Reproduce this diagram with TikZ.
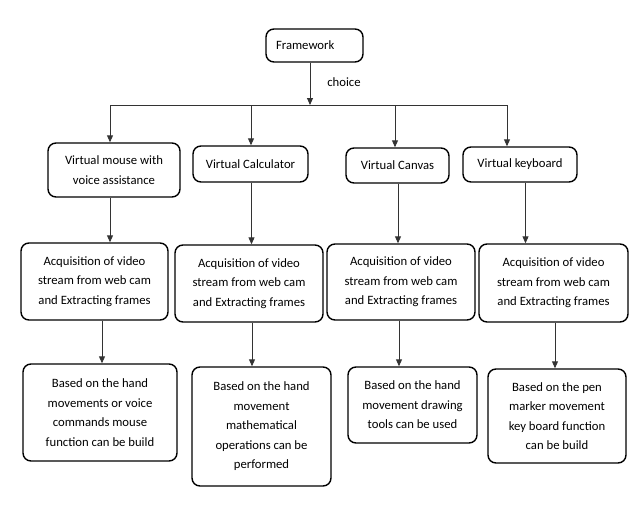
\documentclass[tikz,border=0pt]{standalone}
\usepackage{fontspec}
\setmainfont{Carlito}
\usetikzlibrary{arrows.meta}
\begin{document}
\begin{tikzpicture}[x=1pt,y=-1pt,
  box/.style={draw=black, line width=1.4pt, rounded corners=8pt, align=center, inner sep=0pt,
    font=\fontsize{12.7}{19.5}\selectfont},
  conn/.style={draw=black!80, line width=0.9pt},
  arr/.style={conn, -{Triangle[width=6pt,length=7pt]}}]
\useasboundingbox[fill=white] (0,0) rectangle (634,514);
% top
\node[box, minimum width=97pt, minimum height=33pt, text width=77pt, align=left] (F) at (314.5,45.5) {Framework};
% level 1
\node[box, minimum width=132pt, minimum height=54pt] (M1) at (114,170) {Virtual mouse with\\voice assistance};
\node[box, minimum width=115pt, minimum height=36pt] (M2) at (250.5,164) {Virtual Calculator};
\node[box, minimum width=103pt, minimum height=35pt] (M3) at (397.5,165.5) {Virtual Canvas};
\node[box, minimum width=114pt, minimum height=35pt] (M4) at (520,164.5) {Virtual keyboard};
% level 2
\node[box, minimum width=147pt, minimum height=77pt] (A1) at (94.5,281.5) {Acquisition of video\\stream from web cam\\and Extracting frames};
\node[box, minimum width=148pt, minimum height=77pt] (A2) at (249,283.5) {Acquisition of video\\stream from web cam\\and Extracting frames};
\node[box, minimum width=148pt, minimum height=76pt] (A3) at (401,282) {Acquisition of video\\stream from web cam\\and Extracting frames};
\node[box, minimum width=149pt, minimum height=78pt] (A4) at (553.5,283) {Acquisition of video\\stream from web cam\\and Extracting frames};
% level 3
\node[box, minimum width=154pt, minimum height=97pt] (B1) at (100,412.5) {Based on the hand\\movements or voice\\commands mouse\\function can be build};
\node[box, minimum width=139pt, minimum height=119pt] (B2) at (261.5,426.5) {Based on the hand\\movement\\mathematical\\operations can be\\performed};
\node[box, minimum width=129pt, minimum height=76pt] (B3) at (412.5,405) {Based on the hand\\movement drawing\\tools can be used};
\node[box, minimum width=138pt, minimum height=94pt] (B4) at (557,416) {Based on the pen\\marker movement\\key board function\\can be build};
% choice label
\node[font=\fontsize{12.7}{15}\selectfont, inner sep=0pt] (ch) at (344,82) {choice};
% bus
\coordinate (J) at (310,105);
\coordinate (H1) at (110,105);
\coordinate (H2) at (251,105);
\coordinate (H3) at (395,105);
\coordinate (H4) at (507,105);
\draw[arr] (F.south -| J) -- (J);
\draw[conn] (H1) -- (H4);
\draw[arr] (H1) -- (H1 |- M1.north);
\draw[arr] (H2) -- (H2 |- M2.north);
\draw[arr] (H3) -- (H3 |- M3.north);
\draw[arr] (H4) -- (H4 |- M4.north);
% level1 -> level2
\coordinate (X1) at (110,0);
\coordinate (X2) at (251.5,0);
\coordinate (X3) at (398,0);
\coordinate (X4) at (525.5,0);
\draw[arr] (M1.south -| X1) -- (A1.north -| X1);
\draw[arr] (M2.south -| X2) -- (A2.north -| X2);
\draw[arr] (M3.south -| X3) -- (A3.north -| X3);
\draw[arr] (M4.south -| X4) -- (A4.north -| X4);
% level2 -> level3
\coordinate (Y1) at (102,0);
\coordinate (Y2) at (252,0);
\coordinate (Y3) at (399,0);
\coordinate (Y4) at (555,0);
\draw[arr] (A1.south -| Y1) -- (B1.north -| Y1);
\draw[arr] (A2.south -| Y2) -- (B2.north -| Y2);
\draw[arr] (A3.south -| Y3) -- (B3.north -| Y3);
\draw[arr] (A4.south -| Y4) -- (B4.north -| Y4);
\end{tikzpicture}
\end{document}
